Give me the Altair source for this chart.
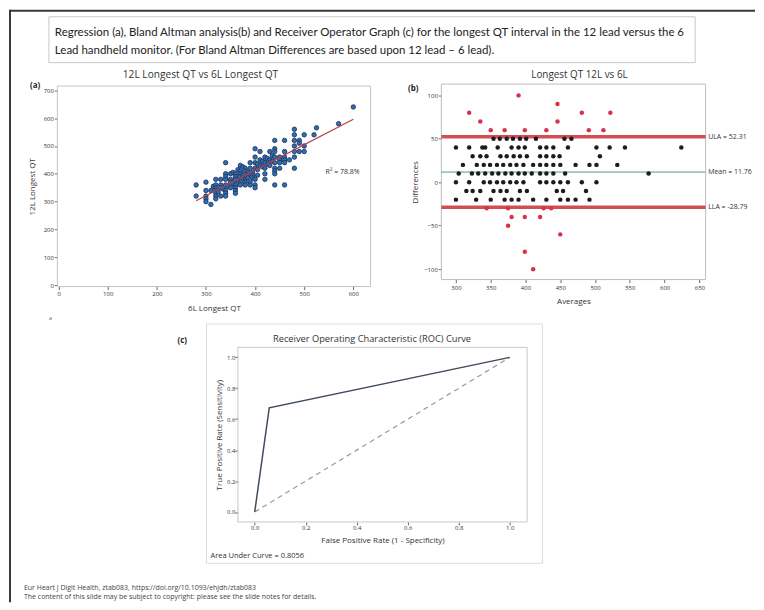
import altair as alt
import pandas as pd

W, H = 748, 594

# ---------------- Panel (a): regression ----------------
a_x_6L = [
    340,
    400,
    280, 440, 480,
    300, 410,
    320, 340, 370, 400, 460, 480,
    330, 340, 350, 355, 365, 375, 390, 430, 440,
    280, 300, 315, 320, 340, 360, 370, 380, 400, 410, 420, 440, 480, 500, 525, 600,
    310, 320, 330, 350, 360, 370, 380, 390, 405, 415, 425, 435, 490,
    300, 320, 330, 340, 350, 360, 370, 375, 385, 400, 410, 420, 430, 440, 460, 480, 490, 520,
    300, 320, 325, 335, 345, 355, 365, 375, 385, 395, 405, 415, 425, 435, 450, 570,
    300, 320, 340, 350, 360, 370, 380, 385, 395, 420, 430, 440, 450, 460, 480, 500,
    320, 330, 340, 360, 370, 380, 395, 405, 450, 460, 490,
    310, 340, 360, 380, 390, 400, 420, 440, 460, 470, 480, 500,
    360, 390, 440, 450,
    400, 420, 440,
    400, 480, 440, 460,
]
a_y_12L = [
    440,
    490,
    360, 520, 560,
    370, 480,
    380, 400, 430, 460, 520, 540,
    380, 390, 400, 405, 415, 425, 440, 480, 490,
    320, 340, 355, 360, 380, 400, 410, 420, 440, 450, 460, 480, 520, 540, 565, 640,
    340, 350, 360, 380, 390, 400, 410, 420, 435, 445, 455, 465, 520,
    320, 340, 350, 360, 370, 380, 390, 395, 405, 420, 430, 440, 450, 460, 480, 500, 510, 540,
    310, 330, 335, 345, 355, 365, 375, 385, 395, 405, 415, 425, 435, 445, 460, 580,
    300, 320, 340, 350, 360, 370, 380, 385, 395, 420, 430, 440, 450, 460, 480, 500,
    310, 320, 330, 350, 360, 370, 385, 395, 440, 450, 480,
    290, 320, 340, 360, 370, 380, 400, 420, 440, 450, 460, 480,
    330, 360, 410, 420,
    360, 380, 400,
    350, 420, 360, 360,
]
reg_x = [280, 600]
reg_y = [303, 596]
r2_label = "R\u00b2 = 78.8%"
a_xticks = [0, 100, 200, 300, 400, 500, 600]
a_yticks = [0, 100, 200, 300, 400, 500, 600, 700]

# ---------------- Panel (b): Bland-Altman ----------------
ba_diff = [100, 90, 80, 70, 60, 50, 40, 30, 20, 10, 0, -10, -20, -30, -40, -50, -60, -80, -100]
ba_avg = [
    [390],
    [446],
    [319, 481, 522],
    [335, 446],
    [350, 370, 399, 430, 491, 512],
    [354, 363, 373, 382, 392, 401, 415, 456, 466],
    [300, 319, 338, 342, 360, 380, 390, 399, 421, 430, 440, 461, 502, 521, 543, 624],
    [324, 335, 344, 364, 373, 383, 392, 402, 421, 430, 440, 449, 507],
    [310, 330, 340, 349, 359, 368, 378, 387, 397, 411, 421, 430, 440, 450, 472, 492, 502, 532],
    [304, 323, 332, 342, 352, 361, 371, 380, 390, 399, 409, 421, 430, 440, 457, 577],
    [300, 319, 340, 349, 359, 368, 378, 387, 397, 421, 430, 440, 450, 461, 481, 502],
    [315, 324, 335, 354, 364, 373, 392, 402, 445, 454, 487],
    [300, 329, 350, 370, 380, 390, 411, 430, 450, 461, 472, 492],
    [344, 375, 426, 437],
    [380, 399, 421],
    [375],
    [450],
    [399],
    [411],
]
ula, mean_diff, lla = 52.31, 11.76, -28.79
b_xticks = [300, 350, 400, 450, 500, 550, 600, 650]
b_yticks = [-100, -50, 0, 50, 100]

# ---------------- Panel (c): ROC ----------------
roc_fpr = [0.0, 0.057, 1.0]
roc_tpr = [0.0, 0.674, 1.0]
chance = [0.0, 1.0]
auc_label = "Area Under Curve = 0.8056"
c_ticks = [0.0, 0.2, 0.4, 0.6, 0.8, 1.0]

title_l1 = "Regression (a), Bland Altman analysis(b) and Receiver Operator Graph (c) for the longest QT interval in the 12 lead versus the 6"
title_l2 = "Lead handheld monitor. (For Bland Altman Differences are based upon 12 lead \u2013 6 lead)."
foot_l1 = "Eur Heart J Digit Health, ztab083, https://doi.org/10.1093/ehjdh/ztab083"
foot_l2 = "The content of this slide may be subject to copyright: please see the slide notes for details."

FONT = "Open Sans"

# plot areas (pixel ranges of each panel's scales)
A_XR, A_YR = [48.5, 362.5], [277.5, 76.5]
B_XR, B_YR = [433.5, 698.5], [270.5, 74.5]
C_XR, C_YR = [229.5, 519.5], [513.5, 338.5]


def lin(domain, rng):
    return alt.Scale(domain=domain, range=rng, nice=False, zero=False)


A_X = lin([-2.5, 635], A_XR)
A_Y = lin([-5, 715], A_YR)
B_X = lin([279, 659], B_XR)
B_Y = lin([-112, 113], B_YR)
C_X = lin([-0.066, 1.068], C_XR)
C_Y = lin([-0.0645, 1.0645], C_YR)


def axis(orient, offset, values, title, fmt=None, title_pad=6, label_pad=1, tick=3):
    kw = dict(orient=orient, offset=offset, values=values, title=title, domain=False,
              grid=False, ticks=True, tickSize=tick, tickColor="#666", labelFontSize=6,
              labelColor="#333", titleFontSize=8, titleColor="#333", titleFontWeight="normal",
              labelFont=FONT, titleFont=FONT, labelPadding=label_pad, titlePadding=title_pad,
              labelFlush=False, labelOverlap=False, minExtent=0)
    if fmt:
        kw["format"] = fmt
    return alt.Axis(**kw)


def one():
    return pd.DataFrame({"k": [0]})


def vtext(txt, x, y, size, align="left", weight="normal", color="#333", font=FONT):
    return alt.Chart(pd.DataFrame({"t": [txt]})).mark_text(
        align=align, baseline="middle", fontSize=size, fontWeight=weight, color=color, font=font
    ).encode(x=alt.value(x), y=alt.value(y), text="t:N")


def vbox(x, y, x2, y2, stroke, width=1):
    return alt.Chart(one()).mark_rect(fillOpacity=0, stroke=stroke, strokeWidth=width).encode(
        x=alt.value(x), x2=alt.value(x2), y=alt.value(y), y2=alt.value(y2))


def vrule(x, y, x2, y2, color, width):
    return alt.Chart(one()).mark_rule(color=color, strokeWidth=width).encode(
        x=alt.value(x), x2=alt.value(x2), y=alt.value(y), y2=alt.value(y2))


def frame(xr, yr, color):
    # four edges of a panel's plot area
    return [
        vrule(xr[0], yr[1], xr[1], yr[1], color, 1),
        vrule(xr[0], yr[0], xr[1], yr[0], color, 1),
        vrule(xr[0], yr[1], xr[0], yr[0], color, 1),
        vrule(xr[1], yr[1], xr[1], yr[0], color, 1),
    ]


layers = []

# outer slide border + header
layers.append(vrule(0, 1, W, 1, "#3a3a3a", 2))
layers.append(vrule(1, 0, 1, H, "#3a3a3a", 2))
layers.append(vbox(40, 7, 688, 53, "#c8c8c8"))
layers.append(vtext(title_l1, 46, 23, 11.5, font="Lato", color="#222"))
layers.append(vtext(title_l2, 46, 41, 11.5, font="Lato", color="#222"))

# ---------- panel (a) ----------
df_a = pd.DataFrame({"qt6": a_x_6L, "qt12": a_y_12L})
df_reg = pd.DataFrame({"qt6": reg_x, "qt12": reg_y})
layers += frame(A_XR, A_YR, "#c4c4c4")
layers.append(alt.Chart(df_a).mark_circle(size=20, color="#2f6db5", stroke="#1b2d52",
                                          strokeWidth=0.8, opacity=1).encode(
    x=alt.X("qt6:Q", scale=A_X, axis=axis("bottom", A_YR[0] - H, a_xticks, "6L Longest QT", title_pad=8)),
    y=alt.Y("qt12:Q", scale=A_Y, axis=axis("left", -A_XR[0], a_yticks, "12L Longest QT", title_pad=7)),
))
layers.append(alt.Chart(df_reg).mark_line(color="#b5404a", strokeWidth=1.2).encode(
    x=alt.X("qt6:Q", scale=A_X, axis=None), y=alt.Y("qt12:Q", scale=A_Y, axis=None)))
layers.append(alt.Chart(pd.DataFrame({"qt6": [578], "qt12": [405], "t": [r2_label]})).mark_text(
    fontSize=7, color="#333", font=FONT, align="center", baseline="middle").encode(
    x=alt.X("qt6:Q", scale=A_X, axis=None), y=alt.Y("qt12:Q", scale=A_Y, axis=None), text="t:N"))
layers.append(vtext("12L Longest QT vs 6L Longest QT", 192, 65, 10.2, align="center"))
layers.append(vtext("(a)", 21, 76, 8, weight="bold", color="#222"))
layers.append(vtext("a", 40, 309, 5.5, color="#666"))

# ---------- panel (b) ----------
recs = []
for d, avgs in zip(ba_diff, ba_avg):
    for a in avgs:
        recs.append({"avg": a, "diff": d})
df_b = pd.DataFrame(recs)
df_lines = pd.DataFrame({"x0": [279, 279, 279], "x1": [659, 659, 659],
                         "y": [ula, lla, mean_diff], "kind": ["ULA", "LLA", "Mean"]})
df_lbl = pd.DataFrame({"y": [ula, mean_diff, lla],
                       "t": [f"ULA = {ula:.2f}", f"Mean = {mean_diff:.2f}", f"LLA = {lla:.2f}"]})
layers += frame(B_XR, B_YR, "#bdbdbd")
layers.append(alt.Chart(df_lines).transform_filter("datum.kind != 'Mean'").mark_rule(
    color="#cc3b40", strokeWidth=3.5, opacity=0.9).encode(
    x=alt.X("x0:Q", scale=B_X, axis=None), x2="x1:Q", y=alt.Y("y:Q", scale=B_Y, axis=None)))
layers.append(alt.Chart(df_lines).transform_filter("datum.kind == 'Mean'").mark_rule(
    color="#4f9a86", strokeWidth=1).encode(
    x=alt.X("x0:Q", scale=B_X, axis=None), x2="x1:Q", y=alt.Y("y:Q", scale=B_Y, axis=None)))
layers.append(alt.Chart(df_b).mark_circle(size=20, opacity=1).encode(
    x=alt.X("avg:Q", scale=B_X, axis=axis("bottom", B_YR[0] - H, b_xticks, "Averages", title_pad=7, label_pad=2)),
    y=alt.Y("diff:Q", scale=B_Y, axis=axis("left", -B_XR[0], b_yticks, "Differences", title_pad=4)),
    color=alt.condition(f"datum.diff > {ula} || datum.diff < {lla}", alt.value("#d8324a"), alt.value("#1c1c1c")),
))
layers.append(alt.Chart(df_lbl).mark_text(align="left", baseline="middle", fontSize=7,
                                          color="#333", font=FONT).encode(
    x=alt.value(701), y=alt.Y("y:Q", scale=B_Y, axis=None), text="t:N"))
layers.append(vtext("Longest QT 12L vs 6L", 572, 65, 9.9, align="center"))
layers.append(vtext("(b)", 400, 79, 8, weight="bold", color="#222"))

# ---------- panel (c) ----------
df_roc = pd.DataFrame({"fpr": roc_fpr, "tpr": roc_tpr})
df_ch = pd.DataFrame({"fpr": chance, "tpr": chance})
layers.append(vbox(198, 315, 535, 555, "#dddddd"))
layers += frame(C_XR, C_YR, "#c8c8c8")
layers.append(alt.Chart(df_ch).mark_line(color="#9a9a9a", strokeWidth=1.2, strokeDash=[5, 4]).encode(
    x=alt.X("fpr:Q", scale=C_X, axis=None), y=alt.Y("tpr:Q", scale=C_Y, axis=None)))
layers.append(alt.Chart(df_roc).mark_line(color="#3d4b5c", strokeWidth=1.5).encode(
    x=alt.X("fpr:Q", scale=C_X, axis=axis("bottom", C_YR[0] - H, c_ticks, "False Positive Rate (1 - Specificity)",
                                          fmt=".1f", title_pad=6, label_pad=0)),
    y=alt.Y("tpr:Q", scale=C_Y, axis=axis("left", -C_XR[0], c_ticks, "True Positive Rate (Sensitivity)",
                                          fmt=".1f", title_pad=3, label_pad=0)),
))
layers.append(vtext("Receiver Operating Characteristic (ROC) Curve", 364, 330, 9.3, align="center"))
layers.append(vtext("(c)", 169, 332, 8, weight="bold", color="#222"))
layers.append(vtext(auc_label, 202, 548, 7.5, color="#333"))

# ---------- footer ----------
layers.append(vtext(foot_l1, 15, 580, 7, color="#444"))
layers.append(vtext(foot_l2, 15, 589, 7, color="#444"))

chart = alt.layer(*layers).resolve_scale(x="independent", y="independent").properties(
    width=W, height=H, padding=0
).configure_view(strokeWidth=0)

chart.save("out.html", embed_options={"renderer": "svg", "actions": False})
